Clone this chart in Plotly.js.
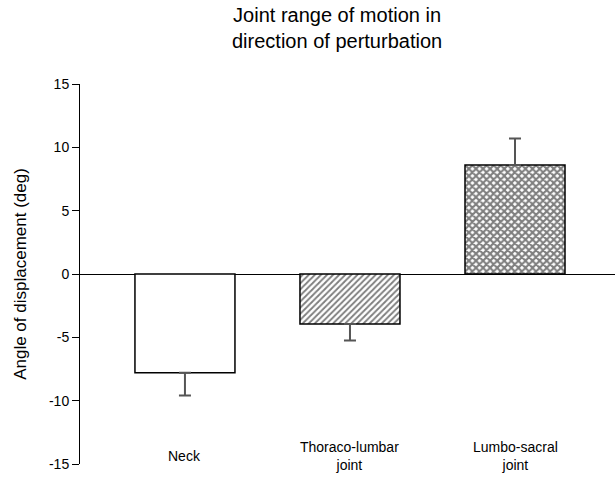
<!DOCTYPE html>
<html>
<head>
<meta charset="utf-8">
<script src="https://cdn.plot.ly/plotly-3.0.1.min.js"></script>
<style>html,body{margin:0;padding:0;background:#fff}#chart{width:615px;height:477px}</style>
</head>
<body>
<div id="chart"></div>
<script>
const categories = ["Neck", "Thoraco-lumbar<br>joint", "Lumbo-sacral<br>joint"];
const values = [-7.8, -3.95, 8.6];
const errPlus = [0, 0, 2.1];
const errMinus = [1.8, 1.3, 0];
const yTicks = [-15, -10, -5, 0, 5, 10, 15];
const patternShapes = ["", "/", "x"];
const chartTitle = "Joint range of motion in<br>direction of perturbation";

const xIdx = categories.map((c, i) => i);

const trace = {
  type: "bar",
  x: xIdx,
  y: values,
  width: 0.606,
  marker: {
    color: "white",
    line: {color: "black", width: 1.5},
    pattern: {shape: patternShapes, size: [4, 4.3, 5], solidity: [0.3, 0.45, 0.65], fgcolor: "black", bgcolor: "white", fillmode: "overlay"}
  },
  error_y: {
    type: "data", symmetric: false, array: errPlus, arrayminus: errMinus,
    color: "#555", thickness: 2, width: 6
  },
  hoverinfo: "skip"
};

const annotations = categories.map((c, i) => ({
  x: i, y: -14.4, xref: "x", yref: "y", text: c, showarrow: false,
  font: {family: "Arial, Liberation Sans, sans-serif", size: 14, color: "black"},
  yanchor: "middle"
}));
annotations.push({
  x: 0.48, y: 1.215, xref: "paper", yref: "paper", xanchor: "center", yanchor: "top",
  text: chartTitle, showarrow: false,
  font: {family: "Arial, Liberation Sans, sans-serif", size: 20, color: "black"}
});

const layout = {
  width: 615, height: 477,
  margin: {l: 80, r: 0, t: 84, b: 13},
  paper_bgcolor: "white", plot_bgcolor: "white",
  showlegend: false,
  font: {family: "Arial, Liberation Sans, sans-serif", color: "black"},
  xaxis: {
    range: [-0.636, 2.606], showgrid: false, zeroline: false, showline: false,
    showticklabels: false, ticks: "", fixedrange: true
  },
  yaxis: {
    range: [-15, 15], tickvals: yTicks, ticktext: yTicks.map(String),
    showgrid: false, showline: true, linecolor: "black", linewidth: 1,
    ticks: "outside", ticklen: 7, tickcolor: "black", tickfont: {size: 14},
    zeroline: true, zerolinecolor: "black", zerolinewidth: 1,
    title: {text: "Angle of displacement (deg)", font: {size: 17}, standoff: 18}
  },
  annotations: annotations
};

Plotly.newPlot("chart", [trace], layout, {displayModeBar: false, staticPlot: true});
</script>
</body>
</html>
